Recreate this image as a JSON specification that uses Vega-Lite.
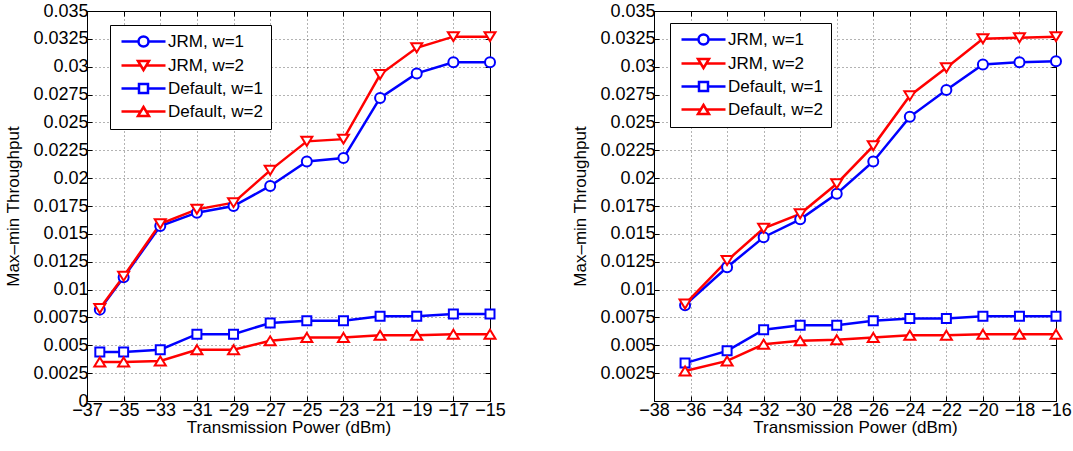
{
  "$schema": "https://vega.github.io/schema/vega-lite/v6.json",
  "background": "white",
  "padding": {"left": 4, "top": 1, "right": 0, "bottom": 3},
  "spacing": 65,
  "datasets": {
    "left": [
      {"x": -36.3, "y": 0.0082, "s": "JRM, w=1"}, {"x": -35, "y": 0.0111, "s": "JRM, w=1"}, {"x": -33, "y": 0.0157, "s": "JRM, w=1"},
      {"x": -31, "y": 0.0169, "s": "JRM, w=1"}, {"x": -29, "y": 0.0175, "s": "JRM, w=1"}, {"x": -27, "y": 0.0193, "s": "JRM, w=1"},
      {"x": -25, "y": 0.0215, "s": "JRM, w=1"}, {"x": -23, "y": 0.0218, "s": "JRM, w=1"}, {"x": -21, "y": 0.0272, "s": "JRM, w=1"},
      {"x": -19, "y": 0.0294, "s": "JRM, w=1"}, {"x": -17, "y": 0.0304, "s": "JRM, w=1"}, {"x": -15, "y": 0.0304, "s": "JRM, w=1"},
      {"x": -36.3, "y": 0.0083, "s": "JRM, w=2"}, {"x": -35, "y": 0.0112, "s": "JRM, w=2"}, {"x": -33, "y": 0.0159, "s": "JRM, w=2"},
      {"x": -31, "y": 0.0172, "s": "JRM, w=2"}, {"x": -29, "y": 0.0178, "s": "JRM, w=2"}, {"x": -27, "y": 0.0207, "s": "JRM, w=2"},
      {"x": -25, "y": 0.0233, "s": "JRM, w=2"}, {"x": -23, "y": 0.0235, "s": "JRM, w=2"}, {"x": -21, "y": 0.0293, "s": "JRM, w=2"},
      {"x": -19, "y": 0.0317, "s": "JRM, w=2"}, {"x": -17, "y": 0.0327, "s": "JRM, w=2"}, {"x": -15, "y": 0.0327, "s": "JRM, w=2"},
      {"x": -36.3, "y": 0.0044, "s": "Default, w=1"}, {"x": -35, "y": 0.0044, "s": "Default, w=1"}, {"x": -33, "y": 0.0046, "s": "Default, w=1"},
      {"x": -31, "y": 0.006, "s": "Default, w=1"}, {"x": -29, "y": 0.006, "s": "Default, w=1"}, {"x": -27, "y": 0.007, "s": "Default, w=1"},
      {"x": -25, "y": 0.0072, "s": "Default, w=1"}, {"x": -23, "y": 0.0072, "s": "Default, w=1"}, {"x": -21, "y": 0.0076, "s": "Default, w=1"},
      {"x": -19, "y": 0.0076, "s": "Default, w=1"}, {"x": -17, "y": 0.0078, "s": "Default, w=1"}, {"x": -15, "y": 0.0078, "s": "Default, w=1"},
      {"x": -36.3, "y": 0.0035, "s": "Default, w=2"}, {"x": -35, "y": 0.0035, "s": "Default, w=2"}, {"x": -33, "y": 0.0036, "s": "Default, w=2"},
      {"x": -31, "y": 0.0046, "s": "Default, w=2"}, {"x": -29, "y": 0.0046, "s": "Default, w=2"}, {"x": -27, "y": 0.0054, "s": "Default, w=2"},
      {"x": -25, "y": 0.0057, "s": "Default, w=2"}, {"x": -23, "y": 0.0057, "s": "Default, w=2"}, {"x": -21, "y": 0.0059, "s": "Default, w=2"},
      {"x": -19, "y": 0.0059, "s": "Default, w=2"}, {"x": -17, "y": 0.006, "s": "Default, w=2"}, {"x": -15, "y": 0.006, "s": "Default, w=2"}
    ],
    "right": [
      {"x": -36.3, "y": 0.0086, "s": "JRM, w=1"}, {"x": -34, "y": 0.012, "s": "JRM, w=1"}, {"x": -32, "y": 0.0147, "s": "JRM, w=1"},
      {"x": -30, "y": 0.0163, "s": "JRM, w=1"}, {"x": -28, "y": 0.0186, "s": "JRM, w=1"}, {"x": -26, "y": 0.0215, "s": "JRM, w=1"},
      {"x": -24, "y": 0.0255, "s": "JRM, w=1"}, {"x": -22, "y": 0.0279, "s": "JRM, w=1"}, {"x": -20, "y": 0.0302, "s": "JRM, w=1"},
      {"x": -18, "y": 0.0304, "s": "JRM, w=1"}, {"x": -16, "y": 0.0305, "s": "JRM, w=1"},
      {"x": -36.3, "y": 0.0087, "s": "JRM, w=2"}, {"x": -34, "y": 0.0126, "s": "JRM, w=2"}, {"x": -32, "y": 0.0155, "s": "JRM, w=2"},
      {"x": -30, "y": 0.0168, "s": "JRM, w=2"}, {"x": -28, "y": 0.0195, "s": "JRM, w=2"}, {"x": -26, "y": 0.0229, "s": "JRM, w=2"},
      {"x": -24, "y": 0.0274, "s": "JRM, w=2"}, {"x": -22, "y": 0.0299, "s": "JRM, w=2"}, {"x": -20, "y": 0.0325, "s": "JRM, w=2"},
      {"x": -18, "y": 0.0326, "s": "JRM, w=2"}, {"x": -16, "y": 0.0327, "s": "JRM, w=2"},
      {"x": -36.3, "y": 0.0034, "s": "Default, w=1"}, {"x": -34, "y": 0.0045, "s": "Default, w=1"}, {"x": -32, "y": 0.0064, "s": "Default, w=1"},
      {"x": -30, "y": 0.0068, "s": "Default, w=1"}, {"x": -28, "y": 0.0068, "s": "Default, w=1"}, {"x": -26, "y": 0.0072, "s": "Default, w=1"},
      {"x": -24, "y": 0.0074, "s": "Default, w=1"}, {"x": -22, "y": 0.0074, "s": "Default, w=1"}, {"x": -20, "y": 0.0076, "s": "Default, w=1"},
      {"x": -18, "y": 0.0076, "s": "Default, w=1"}, {"x": -16, "y": 0.0076, "s": "Default, w=1"},
      {"x": -36.3, "y": 0.0027, "s": "Default, w=2"}, {"x": -34, "y": 0.0036, "s": "Default, w=2"}, {"x": -32, "y": 0.0051, "s": "Default, w=2"},
      {"x": -30, "y": 0.0054, "s": "Default, w=2"}, {"x": -28, "y": 0.0055, "s": "Default, w=2"}, {"x": -26, "y": 0.0057, "s": "Default, w=2"},
      {"x": -24, "y": 0.0059, "s": "Default, w=2"}, {"x": -22, "y": 0.0059, "s": "Default, w=2"}, {"x": -20, "y": 0.006, "s": "Default, w=2"},
      {"x": -18, "y": 0.006, "s": "Default, w=2"}, {"x": -16, "y": 0.006, "s": "Default, w=2"}
    ]
  },
  "hconcat": [
    {
      "width": 403,
      "height": 390,
      "data": {"name": "left"},
      "layer": [
        {
          "mark": {"type": "line", "strokeWidth": 2.5},
          "encoding": {
            "x": {"field": "x", "type": "quantitative", "scale": {"domain": [-37, -15], "nice": false, "zero": false},
              "axis": {"values": [-37, -35, -33, -31, -29, -27, -25, -23, -21, -19, -17, -15], "format": "d", "title": "Transmission Power (dBm)", "grid": true}},
            "y": {"field": "y", "type": "quantitative", "scale": {"domain": [0, 0.035], "nice": false},
              "axis": {"values": [0, 0.0025, 0.005, 0.0075, 0.01, 0.0125, 0.015, 0.0175, 0.02, 0.0225, 0.025, 0.0275, 0.03, 0.0325, 0.035], "format": ".4~g", "title": "Max\u2013min Throughput", "grid": true}},
            "stroke": {"field": "s", "type": "nominal", "legend": null,
              "scale": {"domain": ["JRM, w=1", "JRM, w=2", "Default, w=1", "Default, w=2"], "range": ["#0000ff", "#ff0000", "#0000ff", "#ff0000"]}}
          }
        },
        {
          "mark": {"type": "point", "filled": true, "fill": "white", "strokeWidth": 2, "opacity": 1, "size": 100},
          "encoding": {
            "x": {"field": "x", "type": "quantitative", "axis": {"orient": "top", "labels": false, "title": null, "grid": false, "domain": false, "values": [-37, -35, -33, -31, -29, -27, -25, -23, -21, -19, -17, -15]}},
            "y": {"field": "y", "type": "quantitative", "axis": {"orient": "right", "labels": false, "title": null, "grid": false, "domain": false, "values": [0, 0.0025, 0.005, 0.0075, 0.01, 0.0125, 0.015, 0.0175, 0.02, 0.0225, 0.025, 0.0275, 0.03, 0.0325, 0.035]}},
            "stroke": {"field": "s", "type": "nominal", "legend": null,
              "scale": {"domain": ["JRM, w=1", "JRM, w=2", "Default, w=1", "Default, w=2"], "range": ["#0000ff", "#ff0000", "#0000ff", "#ff0000"]}},
            "shape": {"field": "s", "type": "nominal", "legend": null,
              "scale": {"domain": ["JRM, w=1", "JRM, w=2", "Default, w=1", "Default, w=2"],
                "range": ["M-1,0A1,1 0 1,1 1,0A1,1 0 1,1 -1,0Z", "M-1.1,-0.9H1.1L0,0.9Z", "M-0.9,-0.9H0.9V0.9H-0.9Z", "M-1.1,0.9H1.1L0,-0.9Z"]}}
          }
        },
        {
          "transform": [{"filter": "datum.x > 0"}],
          "mark": {"type": "point", "filled": true, "fill": "white", "strokeWidth": 2.5, "opacity": 1, "size": 100},
          "encoding": {
            "stroke": {"field": "s", "type": "nominal",
              "scale": {"domain": ["JRM, w=1", "JRM, w=2", "Default, w=1", "Default, w=2"], "range": ["#0000ff", "#ff0000", "#0000ff", "#ff0000"]},
              "legend": {"orient": "none", "legendX": 23, "legendY": 14, "title": null}},
            "shape": {"field": "s", "type": "nominal",
              "scale": {"domain": ["JRM, w=1", "JRM, w=2", "Default, w=1", "Default, w=2"],
                "range": ["M-1,0H2.4M4.4,0H7.8M2.4,0A1,1 0 1,1 4.4,0A1,1 0 1,1 2.4,0Z", "M-1,0H2.85M3.95,0H7.8M2.3,-0.9H4.5L3.4,0.9Z", "M-1,0H2.5M4.3,0H7.8M2.5,-0.9H4.3V0.9H2.5Z", "M-1,0H2.85M3.95,0H7.8M2.3,0.9H4.5L3.4,-0.9Z"]},
              "legend": {"orient": "none", "legendX": 23, "legendY": 14, "title": null}}
          }
        }
      ],
      "resolve": {
        "axis": {"x": "independent", "y": "independent"},
        "scale": {"stroke": "independent", "shape": "independent"},
        "legend": {"stroke": "independent", "shape": "independent"}
      }
    },
    {
      "width": 402,
      "height": 390,
      "data": {"name": "right"},
      "layer": [
        {
          "mark": {"type": "line", "strokeWidth": 2.5},
          "encoding": {
            "x": {"field": "x", "type": "quantitative", "scale": {"domain": [-38, -16], "nice": false, "zero": false},
              "axis": {"values": [-38, -36, -34, -32, -30, -28, -26, -24, -22, -20, -18, -16], "format": "d", "title": "Transmission Power (dBm)", "grid": true}},
            "y": {"field": "y", "type": "quantitative", "scale": {"domain": [0, 0.035], "nice": false},
              "axis": {"values": [0.0025, 0.005, 0.0075, 0.01, 0.0125, 0.015, 0.0175, 0.02, 0.0225, 0.025, 0.0275, 0.03, 0.0325, 0.035], "format": ".4~g", "title": "Max\u2013min Throughput", "grid": true}},
            "stroke": {"field": "s", "type": "nominal", "legend": null,
              "scale": {"domain": ["JRM, w=1", "JRM, w=2", "Default, w=1", "Default, w=2"], "range": ["#0000ff", "#ff0000", "#0000ff", "#ff0000"]}}
          }
        },
        {
          "mark": {"type": "point", "filled": true, "fill": "white", "strokeWidth": 2, "opacity": 1, "size": 100},
          "encoding": {
            "x": {"field": "x", "type": "quantitative", "axis": {"orient": "top", "labels": false, "title": null, "grid": false, "domain": false, "values": [-38, -36, -34, -32, -30, -28, -26, -24, -22, -20, -18, -16]}},
            "y": {"field": "y", "type": "quantitative", "axis": {"orient": "right", "labels": false, "title": null, "grid": false, "domain": false, "values": [0.0025, 0.005, 0.0075, 0.01, 0.0125, 0.015, 0.0175, 0.02, 0.0225, 0.025, 0.0275, 0.03, 0.0325, 0.035]}},
            "stroke": {"field": "s", "type": "nominal", "legend": null,
              "scale": {"domain": ["JRM, w=1", "JRM, w=2", "Default, w=1", "Default, w=2"], "range": ["#0000ff", "#ff0000", "#0000ff", "#ff0000"]}},
            "shape": {"field": "s", "type": "nominal", "legend": null,
              "scale": {"domain": ["JRM, w=1", "JRM, w=2", "Default, w=1", "Default, w=2"],
                "range": ["M-1,0A1,1 0 1,1 1,0A1,1 0 1,1 -1,0Z", "M-1.1,-0.9H1.1L0,0.9Z", "M-0.9,-0.9H0.9V0.9H-0.9Z", "M-1.1,0.9H1.1L0,-0.9Z"]}}
          }
        },
        {
          "transform": [{"filter": "datum.x > 0"}],
          "mark": {"type": "point", "filled": true, "fill": "white", "strokeWidth": 2.5, "opacity": 1, "size": 100},
          "encoding": {
            "stroke": {"field": "s", "type": "nominal",
              "scale": {"domain": ["JRM, w=1", "JRM, w=2", "Default, w=1", "Default, w=2"], "range": ["#0000ff", "#ff0000", "#0000ff", "#ff0000"]},
              "legend": {"orient": "none", "legendX": 16, "legendY": 12, "title": null}},
            "shape": {"field": "s", "type": "nominal",
              "scale": {"domain": ["JRM, w=1", "JRM, w=2", "Default, w=1", "Default, w=2"],
                "range": ["M-1,0H2.4M4.4,0H7.8M2.4,0A1,1 0 1,1 4.4,0A1,1 0 1,1 2.4,0Z", "M-1,0H2.85M3.95,0H7.8M2.3,-0.9H4.5L3.4,0.9Z", "M-1,0H2.5M4.3,0H7.8M2.5,-0.9H4.3V0.9H2.5Z", "M-1,0H2.85M3.95,0H7.8M2.3,0.9H4.5L3.4,-0.9Z"]},
              "legend": {"orient": "none", "legendX": 16, "legendY": 12, "title": null}}
          }
        }
      ],
      "resolve": {
        "axis": {"x": "independent", "y": "independent"},
        "scale": {"stroke": "independent", "shape": "independent"},
        "legend": {"stroke": "independent", "shape": "independent"}
      }
    }
  ],
  "resolve": {
    "scale": {"stroke": "independent", "shape": "independent"},
    "legend": {"stroke": "independent", "shape": "independent"}
  },
  "config": {
    "font": "Liberation Sans",
    "view": {"stroke": "#000", "strokeWidth": 1},
    "axis": {
      "labelFont": "Liberation Sans", "labelFontSize": 18, "labelColor": "#000",
      "titleFont": "Liberation Sans", "titleFontSize": 17, "titleFontWeight": "normal", "titleColor": "#000",
      "domainColor": "#000", "domainWidth": 1,
      "tickColor": "#000", "tickSize": -5, "tickWidth": 1, "labelPadding": 4,
      "gridColor": "#000", "gridDash": [1, 3], "gridOpacity": 0.6, "gridWidth": 1,
      "labelOverlap": false, "labelFlush": false, "labelBound": false
    },
    "axisX": {"titlePadding": 0, "labelPadding": 5},
    "axisY": {"titlePadding": 10},
    "legend": {
      "labelFont": "Liberation Sans", "labelFontSize": 17, "labelColor": "#000",
      "strokeColor": "#000", "fillColor": "white", "padding": 8, "cornerRadius": 0,
      "rowPadding": 4, "symbolSize": 100, "labelOffset": 33, "symbolStrokeWidth": 2.5, "symbolFillColor": "white"
    }
  }
}
